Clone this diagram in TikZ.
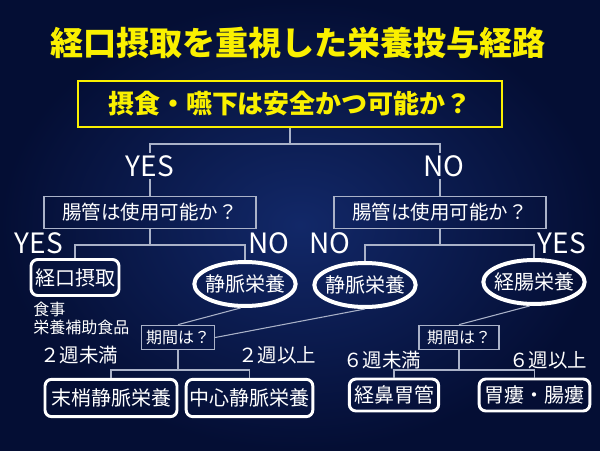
\documentclass[tikz,border=0pt]{standalone}
\usepackage{fontspec}
\setmainfont{Noto Sans CJK JP}
\usetikzlibrary{calc}
\usetikzlibrary{shapes.geometric}
\usepackage{xcolor}
\definecolor{slideyellow}{RGB}{250,240,0}
\definecolor{linegray}{RGB}{170,178,200}
\definecolor{bginner}{RGB}{18,40,104}
\definecolor{bgouter}{RGB}{4,14,52}

\begin{document}
\begin{tikzpicture}[x=0.75pt,y=-0.75pt,
  conn/.style={linegray,line width=0.8pt},
  question/.style={draw=linegray,line width=0.8pt,text=white,font=\fontsize{14.6}{16}\selectfont,minimum width=159pt,minimum height=24.5pt,inner sep=0pt},
  answer/.style={text=white,font=\fontsize{21}{22}\selectfont,inner sep=1.5pt},
  result/.style={draw=white,line width=2.2pt,rounded corners=5pt,text=white,font=\fontsize{15}{17}\selectfont,inner sep=0pt},
  route/.style={ellipse,draw=white,line width=3pt,text=white,font=\fontsize{15}{17}\selectfont,inner xsep=-3.5pt,inner ysep=3pt,minimum width=76pt,minimum height=33pt},
  period/.style={draw=linegray,line width=0.8pt,text=white,font=\fontsize{12}{13}\selectfont,minimum height=18.5pt,inner sep=0pt},
  weeks/.style={text=white,font=\fontsize{14.6}{16}\selectfont}]
\shade[inner color=bginner,outer color=bgouter] (0,0) rectangle (600,450);
\useasboundingbox (0,0) rectangle (600,450);
\node[text=slideyellow,font=\bfseries\fontsize{24.8}{28}\selectfont] (title) at (298,43) {経口摂取を重視した栄養投与経路};
\node[draw=slideyellow,line width=1.5pt,text=slideyellow,font=\bfseries\fontsize{19.5}{22}\selectfont,minimum width=318pt,minimum height=35pt] (safe) at (290,104) {摂食・嚥下は安全かつ可能か？};
\coordinate (splitA) at (290,144);
\node[answer] (yesA) at (150,166) {YES};
\node[answer] (noA) at (444,166) {NO};
\node[question] (gutL) at (150,212.5) {腸管は使用可能か？};
\node[question] (gutR) at (440,212.5) {腸管は使用可能か？};
\draw[conn] (safe.south) -- (splitA) -| (yesA.north);
\draw[conn] (splitA) -| (noA.north -| gutR.north);
\draw[conn] (yesA.south) -- (gutL.north);
\draw[conn] (noA.south -| gutR.north) -- (gutR.north);
\coordinate (splitB) at (150,245);
\node[answer] (yesB) at (39,243) {YES};
\node[answer] (noB) at (269,243) {NO};
\node[result,minimum width=66pt,minimum height=27pt] (oral) at (75,277.5) {経口摂取};
\node[route] (pnL) at (245,284) {静脈栄養};
\draw[conn] (gutL.south) -- (splitB) -| (oral.north);
\draw[conn] (splitB) -| (pnL.north);
\coordinate (splitC) at (440,245);
\node[answer] (noC) at (330,243) {NO};
\node[answer] (yesC) at (562,243) {YES};
\node[route] (pnR) at (365,285) {静脈栄養};
\node[route] (en) at (534,282) {経腸栄養};
\draw[conn] (gutR.south) -- (splitC) -| (pnR.north);
\draw[conn] (splitC) -| (en.north);
\node[text=white,font=\fontsize{12}{13.5}\selectfont,align=left,anchor=north west,inner sep=0pt] (meal) at (33,302) {食事\\栄養補助食品};
\node[period,minimum width=55pt] (termL) at (178,337.5) {期間は？};
\node[period,minimum width=60pt] (termR) at (459,337.5) {期間は？};
\draw[conn] (pnL.260) -- (termL.north);
\draw[conn] (pnR.south) -- (termL.east);
\draw[conn] (en.260) -- (termR.north);
\coordinate (splitD) at (178,370);
\node[result,minimum width=99pt,minimum height=28pt] (ppn) at (111,398) {末梢静脈栄養};
\node[result,minimum width=95pt,minimum height=28pt] (tpn) at (249.5,398) {中心静脈栄養};
\draw[conn] (termL.south) -- (splitD) -| (ppn.north);
\draw[conn] (splitD) -| (tpn.north);
\node[weeks] (lt2) at (79,355) {２週未満};
\node[weeks] (ge2) at (277,355) {２週以上};
\node[weeks] (lt6) at (382,360) {６週未満};
\node[weeks] (ge6) at (548,360) {６週以上};
\coordinate (splitE) at (459,370);
\node[result,minimum width=67pt,minimum height=24pt] (ng) at (394,395) {経鼻胃管};
\node[result,minimum width=83pt,minimum height=24pt] (peg) at (534.5,395) {胃瘻・腸瘻};
\draw[conn] (termR.south) -- (splitE) -| (ng.north);
\draw[conn] (splitE) -| (peg.north);
\end{tikzpicture}
\end{document}
